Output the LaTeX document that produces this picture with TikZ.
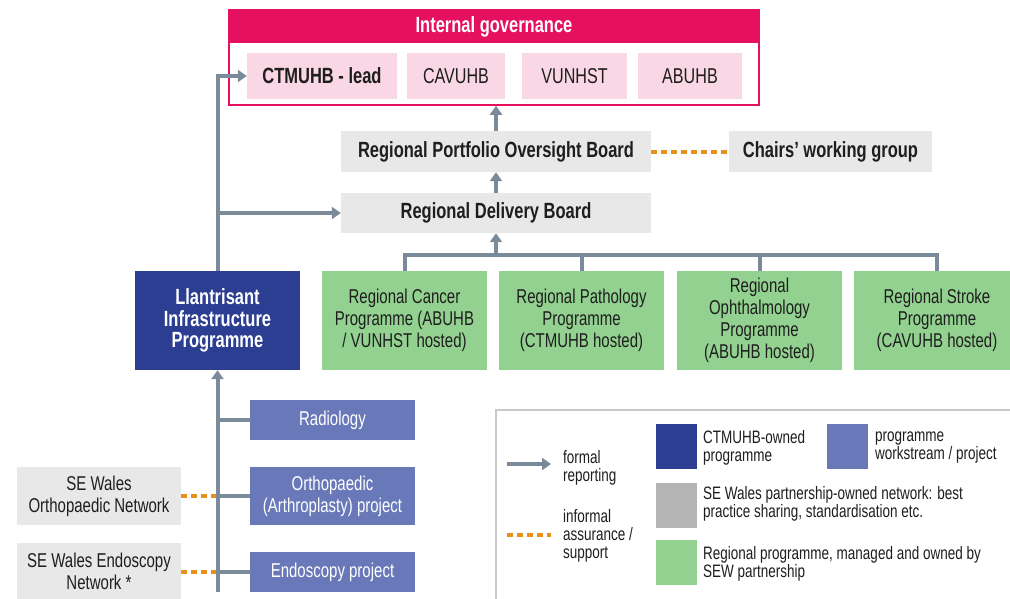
\documentclass[tikz,border=0pt]{standalone}
\usepackage{fontspec}
\setmainfont[FakeStretch=0.75]{Liberation Sans}
\usetikzlibrary{arrows.meta}
\definecolor{magen}{HTML}{E5105F}
\definecolor{pinkbox}{HTML}{FAD7E4}
\definecolor{graybox}{HTML}{E8E8E8}
\definecolor{greenbox}{HTML}{93D190}
\definecolor{darkblue}{HTML}{2B3E91}
\definecolor{midblue}{HTML}{6878B8}
\definecolor{conncol}{HTML}{7A8A98}
\definecolor{orangedot}{HTML}{E8901A}
\definecolor{txt}{HTML}{1E1E1E}
\definecolor{legborder}{HTML}{C8C8C8}
\definecolor{leggray}{HTML}{B4B4B4}
\newcommand\boldfnt{\fontsize{22}{21.5}\selectfont\bfseries}
\newcommand\regfnt{\fontsize{20}{22}\selectfont}
\newcommand\pinkfnt{\fontsize{21.5}{22}\selectfont}
\newcommand\legfnt{\fontsize{18}{18}\selectfont}
\tikzset{
  box/.style={draw=none, align=center, inner sep=0pt, text=txt},
  pinkb/.style={box, fill=pinkbox, minimum height=46, font=\pinkfnt},
  grayb/.style={box, fill=graybox, font=\boldfnt},
  greenb/.style={box, fill=greenbox, minimum width=165, minimum height=99, font=\regfnt},
  blueb/.style={box, fill=midblue, text=white, minimum width=165, font=\regfnt},
  netb/.style={box, fill=graybox, minimum width=164, font=\regfnt},
  conn/.style={draw=conncol, line width=4pt},
  arr/.style={conn, -{Triangle[width=12pt,length=9pt]}},
  dotl/.style={draw=orangedot, line width=4pt, dash pattern=on 6pt off 4pt},
  legsq/.style={box, minimum width=41, minimum height=45},
  legtxt/.style={anchor=west, align=left, inner sep=0pt, text=txt, font=\legfnt},
}
\begin{document}
\begin{tikzpicture}[x=1pt,y=-1pt]
\useasboundingbox (0,0) rectangle (1010,598);
% governance
\node[box, draw=magen, line width=1.5pt, fill=white, minimum width=530, minimum height=95] (gov) at (494,57.5) {};
\node[box, fill=magen, text=white, minimum width=530, minimum height=33, font=\boldfnt] (govh) at (494,26.5) {Internal governance};
\node[pinkb, minimum width=150, font=\boldfnt] (ct) at (322,76) {CTMUHB - lead};
\node[pinkb, minimum width=98] (cav) at (456,76) {CAVUHB};
\node[pinkb, minimum width=105] (vun) at (574.5,76) {VUNHST};
\node[pinkb, minimum width=104] (abu) at (690,76) {ABUHB};
% boards
\node[grayb, minimum width=310, minimum height=41] (port) at (496,151.5) {Regional Portfolio Oversight Board};
\node[grayb, minimum width=203, minimum height=41] (chair) at (830.5,151.5) {Chairs’ working group};
\node[grayb, minimum width=310, minimum height=40] (del) at (496,213) {Regional Delivery Board};
% green programmes
\node[greenb] (canc) at (404.5,320.5) {Regional Cancer\\Programme (ABUHB\\/ VUNHST hosted)};
\node[greenb] (path) at (581.5,320.5) {Regional Pathology\\Programme\\(CTMUHB hosted)};
\node[greenb] (oph) at (759.5,320.5) {Regional\\Ophthalmology\\Programme\\(ABUHB hosted)};
\node[greenb, minimum width=166] (strk) at (937,320.5) {Regional Stroke\\Programme\\(CAVUHB hosted)};
% Llantrisant
\node[box, fill=darkblue, text=white, minimum width=165, minimum height=99, font=\boldfnt] (llan) at (217.5,320.5) {Llantrisant\\Infrastructure\\Programme};
% workstreams
\node[blueb, minimum height=40] (rad) at (332.5,420) {Radiology};
\node[blueb, minimum height=58] (orth) at (332.5,496) {Orthopaedic\\(Arthroplasty) project};
\node[blueb, minimum height=40] (endo) at (332.5,572) {Endoscopy project};
\node[netb, minimum height=58] (onet) at (99,496) {SE Wales\\Orthopaedic Network};
\node[netb, minimum height=57] (enet) at (99,571.5) {SE Wales Endoscopy\\Network *};
% connectors top
\draw[arr] (port.north) -- (port.north |- gov.south);
\draw[arr] (del.north) -- (del.north |- port.south);
\draw[dotl] (port.east) -- (chair.west);
\coordinate (bus) at (0,255);
\draw[conn] (canc.north) -- (canc.north |- bus) -| (strk.north);
\draw[conn] (path.north) -- (path.north |- bus);
\draw[conn] (oph.north) -- (oph.north |- bus);
\draw[arr] (del.south |- bus) -- (del.south);
\draw[arr] (llan.north) |- (ct.west);
\draw[arr] (llan.north |- del) -- (del.west);
% lower trunk
\draw[dotl] (onet.east) -- (onet.east -| llan);
\draw[dotl] (enet.east |- endo) -- (endo -| llan);
\draw[arr] (llan.south |- endo.south) -- (llan.south);
\draw[conn] (rad.west) -- (rad.west -| llan);
\draw[conn] (orth.west) -- (orth.west -| llan);
\draw[conn] (endo.west) -- (endo.west -| llan);
% legend
\node[box, draw=legborder, line width=1.5pt, fill=white, minimum width=530, minimum height=200, anchor=north west] (leg) at (495,409) {};
\coordinate (la1) at (507,464);
\coordinate (la2) at (551,464);
\draw[arr] (la1) -- (la2);
\coordinate (ld1) at (507,535);
\coordinate (ld2) at (551,535);
\draw[dotl] (ld1) -- (ld2);
\node[legtxt] (lt1) at (563,468) {formal\\reporting};
\node[legtxt] (lt2) at (563,536) {informal\\assurance /\\support};
\node[legsq, fill=darkblue] (sq1) at (676.5,446.5) {};
\node[legtxt] (st1) at (703,448) {CTMUHB-owned\\programme};
\node[legsq, fill=midblue] (sq2) at (847,446.5) {};
\node[legtxt] (st2) at (875,448) {programme\\workstream / project};
\node[legsq, fill=leggray] (sq3) at (676.5,505) {};
\node[legtxt] (st3) at (703,504) {SE Wales partnership-owned network: best\\practice sharing, standardisation etc.};
\node[legsq, fill=greenbox] (sq4) at (676.5,562.5) {};
\node[legtxt] (st4) at (703,564) {Regional programme, managed and owned by\\SEW partnership};
\end{tikzpicture}
\end{document}
